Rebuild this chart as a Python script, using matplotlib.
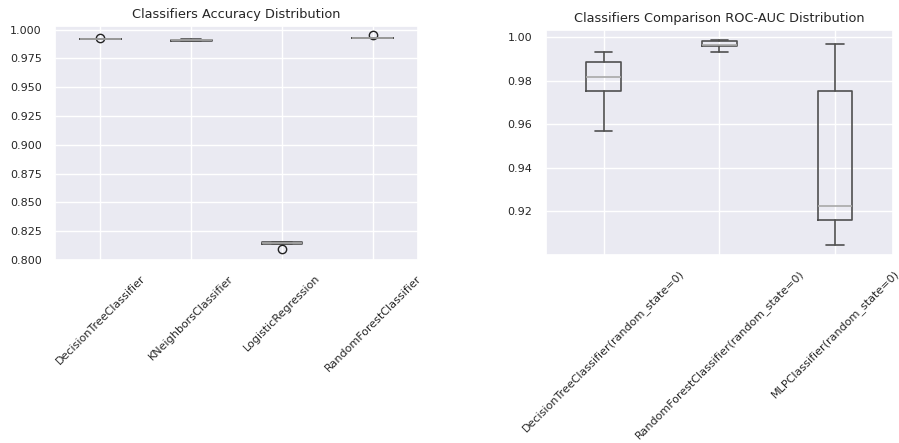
import numpy as np
import matplotlib
matplotlib.use('Agg')
import matplotlib.pyplot as plt
import seaborn as sns

sns.set_theme(style='darkgrid')
plt.rcParams['font.family'] = ['DejaVu Sans']

# accuracy scores per classifier (5 folds)
acc_names = ['DecisionTreeClassifier', 'KNeighborsClassifier',
             'LogisticRegression', 'RandomForestClassifier']
acc_dt = [0.9922, 0.9922, 0.9922, 0.9922, 0.9931]
acc_knn = [0.9904, 0.9905, 0.9907, 0.9914, 0.9915]
acc_lr = [0.8096, 0.8138, 0.8146, 0.8153, 0.8155]
acc_rf = [0.9925, 0.9925, 0.9926, 0.9926, 0.9951]

# roc-auc scores
auc_names = ['DecisionTreeClassifier(random_state=0)',
             'RandomForestClassifier(random_state=0)',
             'MLPClassifier(random_state=0)']
auc_dt = [0.9569, 0.9751, 0.9815, 0.9884, 0.9929]
auc_rf = [0.9933, 0.9959, 0.9964, 0.9981, 0.9985]
auc_mlp = [0.9047, 0.9162, 0.9224, 0.9751, 0.9967]

dark = '#505050'
light = '#a8a8a8'
props = dict(
    boxprops=dict(color=dark, linewidth=1.2),
    whiskerprops=dict(color=dark, linewidth=1.2),
    capprops=dict(color=dark, linewidth=1.2),
    medianprops=dict(color=light, linewidth=1.2),
    flierprops=dict(marker='o', markerfacecolor='none',
                    markeredgecolor='#222222', markersize=6),
)

fig = plt.figure(figsize=(8.99, 4.43), dpi=100)
ax1 = fig.add_axes([0.0612, 0.413, 0.404, 0.528])
ax2 = fig.add_axes([0.607, 0.4244, 0.386, 0.508])

ax1.boxplot([acc_dt, acc_knn, acc_lr, acc_rf], **props)
ax1.set_xticks(range(1, len(acc_names) + 1))
ax1.set_xticklabels(acc_names, rotation=45, ha='center', fontsize=8)
ax1.set_ylim(0.800, 1.003)
ax1.set_yticks(np.arange(0.800, 1.0001, 0.025))
ax1.tick_params(axis='y', labelsize=8)
ax1.set_title('Classifiers Accuracy Distribution', fontsize=9.3)

ax2.boxplot([auc_dt, auc_rf, auc_mlp], **props)
ax2.set_xticks(range(1, len(auc_names) + 1))
ax2.set_xticklabels(auc_names, rotation=45, ha='center', fontsize=8)
ax2.set_yticks([0.92, 0.94, 0.96, 0.98, 1.00])
ax2.tick_params(axis='y', labelsize=8)
ax2.set_title('Classifiers Comparison ROC-AUC Distribution', fontsize=9.3)

fig.savefig('out.png', dpi=100)
